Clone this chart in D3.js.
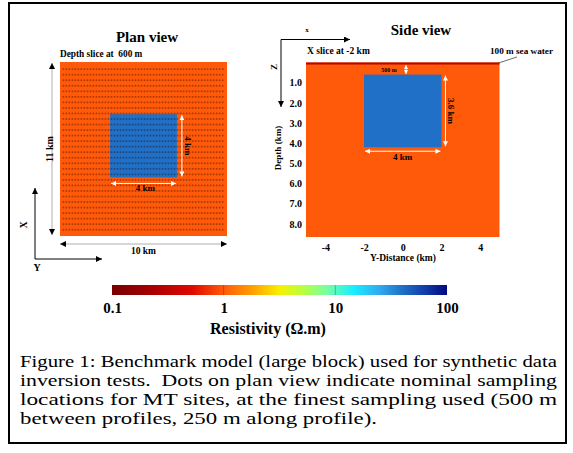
<!DOCTYPE html>
<html><head><meta charset="utf-8">
<script src="https://cdn.jsdelivr.net/npm/d3@7"></script>
<style>
html,body{margin:0;padding:0;background:#fff;}
svg{display:block;}
text{font-family:"Liberation Serif","Times New Roman",serif;}
</style>
</head><body>
<svg id="c" width="573" height="453"></svg>
<script>
// ---------------- data ----------------
// nominal MT site locations in plan view (km)
const planColsY = [-4.80,-4.62,-4.44,-4.26,-4.08,-3.90,-3.72,-3.54,-3.36,-3.18,-3.00,-2.82,-2.64,-2.46,-2.28,-2.10,-1.92,-1.74,-1.56,-1.38,-1.20,-1.02,-0.84,-0.66,-0.48,-0.30,-0.12,0.06,0.24,0.42,0.60,0.78,0.96,1.14,1.32,1.50,1.68,1.86,2.04,2.22,2.40,2.58,2.76,2.94,3.12,3.30,3.48,3.66,3.84,4.02,4.20,4.38,4.56,4.74];
const planRowsX = [5.05,4.70,4.35,4.00,3.65,3.30,2.95,2.60,2.25,1.90,1.55,1.20,0.85,0.50,0.15,-0.20,-0.55,-0.90,-1.25,-1.60,-1.95,-2.30,-2.65,-3.00,-3.35,-3.70,-4.05,-4.40,-4.75,-5.10];
const planExtentY = [-5, 5];
const planExtentX = [-5.5, 5.5];
const blockY = [-2, 2];
const blockXPlan = [-1.8, 2.2];
const blockDepth = [0.6, 4.2];
const seaDepth = [0, 0.1];
const modelDepth = [0, 8.65];
const sideExtentY = [-5, 5];
const resBackground = 1;
const resBlock = 40;
const resSea = 0.3;
const depthTicks = [1, 2, 3, 4, 5, 6, 7, 8];
const distTicks = [-4, -2, 0, 2, 4];
const cbDomain = [0.1, 100];
const cbTicks = [0.1, 1, 10, 100];
const cbStopPos = [0, 0.12, 0.24, 0.333, 0.42, 0.50, 0.57, 0.64, 0.72, 0.80, 0.87, 0.94, 1];
const cbStopColors = ["#780000","#a80000","#e00800","#ff5a0a","#ffa000","#f8f000","#b8ff40","#78ffa0","#18f0ff","#30a8f0","#1e6ec4","#1038a8","#000a80"];
const captionLines = [
  "Figure 1: Benchmark model (large block) used for synthetic data",
  "inversion tests.  Dots on plan view indicate nominal sampling",
  "locations for MT sites, at the finest sampling used (500 m",
  "between profiles, 250 m along profile)."
];

// ---------------- setup ----------------
const svg = d3.select("#c");
const defs = svg.append("defs");
function marker(id, color, w, h) {
  defs.append("marker").attr("id", id).attr("viewBox", "0 0 10 10")
    .attr("refX", 10).attr("refY", 5).attr("markerUnits", "userSpaceOnUse")
    .attr("markerWidth", w).attr("markerHeight", h).attr("orient", "auto-start-reverse")
    .append("path").attr("d", "M0,0L10,5L0,10z").attr("fill", color);
}
marker("ahB", "#000", 7, 6);
marker("ahW", "#fff", 5, 5);
marker("ahWs", "#fff", 4, 4);

const rc = d3.scaleLog().domain(cbDomain).range([0, 1]);
const cmap = d3.scaleLinear().domain(cbStopPos).range(cbStopColors).interpolate(d3.interpolateRgb);
const color = r => cmap(rc(r));

function arrow(g, x1, y1, x2, y2, stroke, mk, both, sw) {
  const l = g.append("line").attr("x1", x1).attr("y1", y1).attr("x2", x2).attr("y2", y2)
    .attr("stroke", stroke).attr("stroke-width", sw || 1).attr("marker-end", `url(#${mk})`);
  if (both) l.attr("marker-start", `url(#${mk})`);
  return l;
}
function label(g, x, y, txt, size, opts = {}) {
  const t = g.append("text").attr("x", x).attr("y", y).text(txt)
    .attr("font-size", size).attr("font-weight", "bold")
    .attr("text-anchor", opts.anchor || "start").attr("fill", opts.fill || "#000");
  if (opts.rot) t.attr("x", 0).attr("y", 0).attr("transform", `translate(${x},${y}) rotate(${opts.rot})`);
  return t;
}

// frame
svg.append("rect").attr("x", 9).attr("y", 3).attr("width", 557).attr("height", 440)
  .attr("fill", "none").attr("stroke", "#000").attr("stroke-width", 2);

// ---------------- plan view ----------------
const pg = svg.append("g");
const py = d3.scaleLinear().domain(planExtentY).range([60, 227]);
const px = d3.scaleLinear().domain(planExtentX).range([236, 62]);
pg.append("rect").attr("x", py(planExtentY[0])).attr("y", px(planExtentX[1]))
  .attr("width", py(planExtentY[1]) - py(planExtentY[0])).attr("height", px(planExtentX[0]) - px(planExtentX[1]))
  .attr("fill", color(resBackground));
pg.append("rect").attr("x", py(blockY[0])).attr("y", px(blockXPlan[1]))
  .attr("width", py(blockY[1]) - py(blockY[0])).attr("height", px(blockXPlan[0]) - px(blockXPlan[1]))
  .attr("fill", color(resBlock));
pg.append("g").selectAll("rect").data(d3.cross(planColsY, planRowsX)).join("rect")
  .attr("x", d => py(d[0]) - 0.8).attr("y", d => px(d[1]) - 0.8)
  .attr("width", 1.6).attr("height", 1.7).attr("fill", "#2a0800").attr("opacity", 0.4);

label(pg, 147, 41.5, "Plan view", 15, {anchor: "middle"});
label(pg, 60, 57, "Depth slice at \u00a0600 m", 9.3);

// dimension arrows
arrow(pg, py(planExtentY[0]) - 8, px(planExtentX[1]) + 1, py(planExtentY[0]) - 8, px(planExtentX[0]) - 1, "#9a9a9a", "ahB", true, 0.8);
arrow(pg, py(planExtentY[0]), px(planExtentX[0]) + 8, py(planExtentY[1]), px(planExtentX[0]) + 8, "#9a9a9a", "ahB", true, 0.8);
label(pg, 53, px(0), "11 km", 10, {anchor: "middle", rot: -90});
label(pg, py(0), 253.5, "10 km", 9.5, {anchor: "middle"});

// block dimension arrows
arrow(pg, py(blockY[1]) + 5, px(blockXPlan[1]) + 1, py(blockY[1]) + 5, px(blockXPlan[0]) - 1, "#fff", "ahW", true, 1);
label(pg, 184.5, (px(blockXPlan[1]) + px(blockXPlan[0])) / 2, "4 km", 9, {anchor: "middle", rot: 90});
arrow(pg, py(blockY[0]) + 1, px(blockXPlan[0]) + 6, py(blockY[1]) - 1, px(blockXPlan[0]) + 6, "#fff", "ahW", true, 1);
label(pg, py(0) + 2, 191, "4 km", 9, {anchor: "middle"});

// axis indicator
arrow(pg, 35, 259, 35, 188, "#000", "ahB", false, 1);
arrow(pg, 35, 259, 102, 259, "#000", "ahB", false, 1);
label(pg, 27, 225, "X", 10, {anchor: "middle", rot: -90});
label(pg, 37, 271, "Y", 10, {anchor: "middle"});

// ---------------- side view ----------------
const sg = svg.append("g");
const sy = d3.scaleLinear().domain(sideExtentY).range([306, 499.5]);
const sz = d3.scaleLinear().domain(modelDepth).range([62.5, 237]);
sg.append("rect").attr("x", sy(sideExtentY[0])).attr("y", sz(modelDepth[0]))
  .attr("width", sy(sideExtentY[1]) - sy(sideExtentY[0])).attr("height", sz(modelDepth[1]) - sz(modelDepth[0]))
  .attr("fill", color(resBackground));
sg.append("rect").attr("x", sy(sideExtentY[0])).attr("y", sz(seaDepth[0]))
  .attr("width", sy(sideExtentY[1]) - sy(sideExtentY[0])).attr("height", sz(seaDepth[1]) - sz(seaDepth[0]))
  .attr("fill", color(resSea));
sg.append("rect").attr("x", sy(blockY[0])).attr("y", sz(blockDepth[0]))
  .attr("width", sy(blockY[1]) - sy(blockY[0])).attr("height", sz(blockDepth[1]) - sz(blockDepth[0]))
  .attr("fill", color(resBlock));

const za = sg.append("g").attr("transform", "translate(305,0)")
  .call(d3.axisLeft(sz).tickValues(depthTicks).tickSize(0).tickPadding(3).tickFormat(d3.format(".1f")));
const ya = sg.append("g").attr("transform", `translate(0,${sz(modelDepth[1])})`)
  .call(d3.axisBottom(sy).tickValues(distTicks).tickSize(0).tickPadding(7).tickFormat(d => String(d)));
[za, ya].forEach(a => {
  a.select(".domain").remove();
  a.selectAll("text").attr("font-family", "Liberation Serif, serif").attr("font-weight", "bold")
    .attr("font-size", 10).attr("fill", "#000");
});
label(sg, 403, 261, "Y-Distance (km)", 9.5, {anchor: "middle"});
label(sg, 280.5, 148, "Depth (km)", 9, {anchor: "middle", rot: -90});

label(sg, 421, 35, "Side view", 15, {anchor: "middle"});
label(sg, 307, 54, "X slice at -2 km", 9.5);
label(sg, 490, 54, "100 m sea water", 9.2);
sg.append("line").attr("x1", sy(sideExtentY[1]) - 1).attr("y1", sz(0) + 0.5).attr("x2", 517).attr("y2", 57)
  .attr("stroke", "#444").attr("stroke-width", 0.8);

label(sg, 389, 71.5, "500 m", 6, {anchor: "middle"});
arrow(sg, 406, sz(seaDepth[1]) + 0.5, 406, sz(blockDepth[0]) - 0.5, "#fff", "ahWs", true, 0.8);

arrow(sg, sy(blockY[1]) + 4, sz(blockDepth[0]) + 1, sy(blockY[1]) + 4, sz(blockDepth[1]) - 1, "#fff", "ahW", true, 1);
label(sg, 447.5, (sz(blockDepth[0]) + sz(blockDepth[1])) / 2, "3.6 km", 9, {anchor: "middle", rot: 90});
arrow(sg, sy(blockY[0]) + 1, sz(blockDepth[1]) + 4, sy(blockY[1]) - 1, sz(blockDepth[1]) + 4, "#fff", "ahW", true, 1);
label(sg, sy(0), 160, "4 km", 9, {anchor: "middle"});

// side axis indicator
arrow(sg, 281, 39.5, 350, 39.5, "#000", "ahB", false, 1);
arrow(sg, 281, 39.5, 281, 107, "#000", "ahB", false, 1);
label(sg, 307, 32, "x", 7, {anchor: "middle"});
label(sg, 277, 67, "Z", 9, {anchor: "middle", rot: -90});

// ---------------- colour bar ----------------
const cx = d3.scaleLog().domain(cbDomain).range([112, 447]);
const grad = defs.append("linearGradient").attr("id", "cbg").attr("x1", "0%").attr("x2", "100%");
grad.selectAll("stop").data(cbStopPos).join("stop")
  .attr("offset", d => d).attr("stop-color", (d, i) => cbStopColors[i]);
const cg = svg.append("g");
cg.append("rect").attr("x", cx(cbDomain[0])).attr("y", 285).attr("width", cx(cbDomain[1]) - cx(cbDomain[0]))
  .attr("height", 10).attr("fill", "url(#cbg)");
cg.selectAll("line.tk").data(cbTicks.slice(1, -1)).join("line").attr("class", "tk")
  .attr("x1", d => cx(d)).attr("x2", d => cx(d)).attr("y1", 285).attr("y2", 295)
  .attr("stroke", "rgba(0,0,0,0.25)").attr("stroke-width", 1);
const ca = cg.append("g").attr("transform", "translate(0,295)")
  .call(d3.axisBottom(cx).tickValues(cbTicks).tickSize(0).tickPadding(7).tickFormat(d => String(d)));
ca.select(".domain").remove();
ca.selectAll("text").attr("font-family", "Liberation Serif, serif").attr("font-weight", "bold")
  .attr("font-size", 15).attr("fill", "#000");
label(cg, 268, 334, "Resistivity (\u03A9.m)", 16, {anchor: "middle"});

// ---------------- caption ----------------
const capEnds = [557, 557, 557, 377];
const capBase = [366.5, 385.5, 404.5, 423.5];
svg.append("g").selectAll("text").data(captionLines).join("text")
  .attr("x", 20).attr("y", (d, i) => capBase[i])
  .attr("font-size", 17.5).attr("fill", "#000")
  .attr("xml:space", "preserve").style("white-space", "pre")
  .attr("textLength", (d, i) => capEnds[i] - 20).attr("lengthAdjust", "spacingAndGlyphs")
  .text(d => d);
</script>
</body></html>
